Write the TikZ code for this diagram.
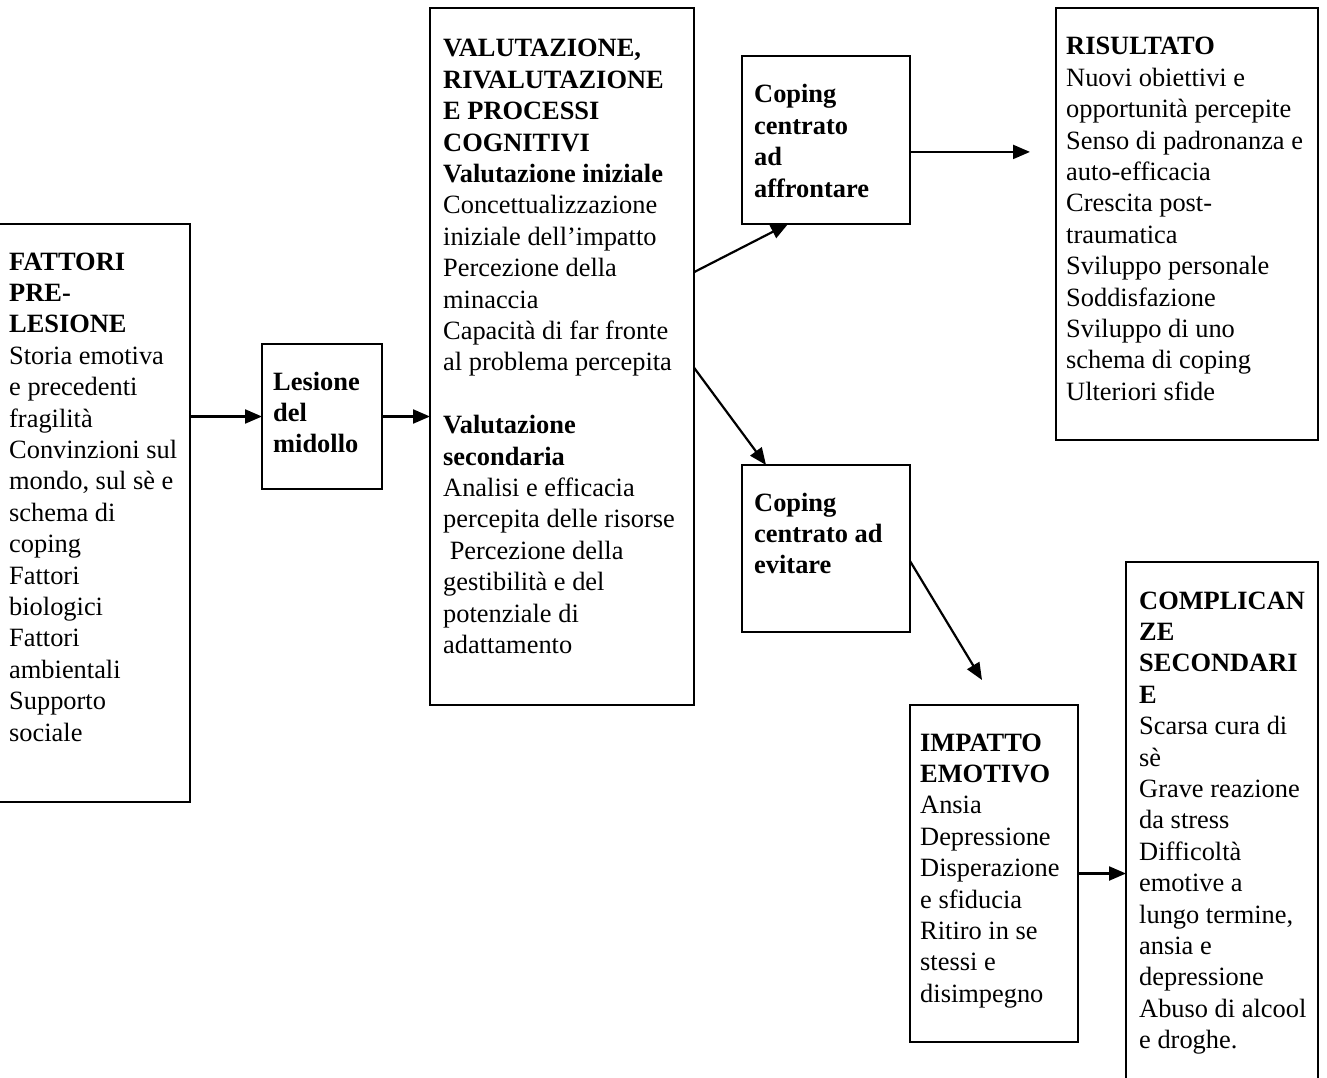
\documentclass[tikz,border=0pt]{standalone}
\usepackage{fontspec}
\setmainfont{Liberation Serif}
\usetikzlibrary{arrows.meta,calc}
\begin{document}
\begin{tikzpicture}[x=1pt,y=-1pt,
  box/.style={draw,line width=2pt,rectangle,inner sep=0pt,outer sep=0pt,anchor=north west},
  txt/.style={anchor=base west,inner sep=0pt,font=\fontsize{26.4}{31.4}\selectfont},
  arr/.style={line width=2.2pt,-{Triangle[length=17pt,width=14pt]}}]
\useasboundingbox (0,0) rectangle (1327,1078);

% boxes
\node[box,minimum width=192pt,minimum height=578pt] (fat) at (-2,224) {};
\node[box,minimum width=120pt,minimum height=145pt] (les) at (262,344) {};
\node[box,minimum width=264pt,minimum height=697pt] (val) at (430,8) {};
\node[box,minimum width=168pt,minimum height=168pt] (ca) at (742,56) {};
\node[box,minimum width=262pt,minimum height=432pt] (ris) at (1056,8) {};
\node[box,minimum width=168pt,minimum height=167pt] (ce) at (742,465) {};
\node[box,minimum width=168pt,minimum height=337pt] (imp) at (910,705) {};
\node[box,minimum width=192pt,minimum height=540pt] (com) at (1126,562) {};

% texts
\node[txt] (tfat) at (9,270) {\parbox[t]{200pt}{\raggedright
  \textbf{FATTORI\\PRE-\\LESIONE}\\Storia emotiva\\e precedenti\\fragilità\\Convinzioni sul\\mondo, sul sè e\\schema di\\coping\\Fattori\\biologici\\Fattori\\ambientali\\Supporto\\sociale}};
\node[txt] (tles) at (273,390) {\parbox[t]{120pt}{\raggedright
  \textbf{Lesione\\del\\midollo}}};
\node[txt] (tval) at (443,57) {\parbox[t]{260pt}{\raggedright
  \textbf{VALUTAZIONE,\\RIVALUTAZIONE\\E PROCESSI\\COGNITIVI\\Valutazione iniziale}\\Concettualizzazione\\iniziale dell’impatto\\Percezione della\\minaccia\\Capacità di far fronte\\al problema percepita\\[31.4pt]
  \textbf{Valutazione\\secondaria}\\Analisi e efficacia\\percepita delle risorse\\\ Percezione della\\gestibilità e del\\potenziale di\\adattamento}};
\node[txt] (tca) at (754,103) {\parbox[t]{160pt}{\raggedright
  \textbf{Coping\\centrato\\ad\\affrontare}}};
\node[txt] (tris) at (1066,55) {\parbox[t]{260pt}{\raggedright
  \textbf{RISULTATO}\\Nuovi obiettivi e\\opportunità percepite\\Senso di padronanza e\\auto-efficacia\\Crescita post-\\traumatica\\Sviluppo personale\\Soddisfazione\\Sviluppo di uno\\schema di coping\\Ulteriori sfide}};
\node[txt] (tce) at (754,511) {\parbox[t]{160pt}{\raggedright
  \textbf{Coping\\centrato ad\\evitare}}};
\node[txt] (timp) at (920,751) {\parbox[t]{160pt}{\raggedright
  \textbf{IMPATTO\\EMOTIVO}\\Ansia\\Depressione\\Disperazione\\e sfiducia\\Ritiro in se\\stessi e\\disimpegno}};
\node[txt] (tcom) at (1139,609) {\parbox[t]{190pt}{\raggedright
  \textbf{COMPLICAN\\ZE\\SECONDARI\\E}\\Scarsa cura di\\sè\\Grave reazione\\da stress\\Difficoltà\\emotive a\\lungo termine,\\ansia e\\depressione\\Abuso di alcool\\e droghe.}};

% free arrow ends
\coordinate (risin) at ($(ris.west)+(-26,0)$);
\coordinate (impin) at ($(imp.north west)+(72,-25)$);

% connectors
\draw[arr] (fat.east |- les.west) -- (les.west);
\draw[arr] (les.east) -- (les.east -| val.west);
\draw[arr] ($(val.north east)!0.379!(val.south east)$) -- ($(ca.south west)!0.274!(ca.south east)$);
\draw[arr] ($(val.north east)!0.516!(val.south east)$) -- ($(ce.north west)!0.143!(ce.north east)$);
\coordinate (caout) at ($(ca.north east)!0.571!(ca.south east)$);
\draw[arr] (caout) -- (caout -| risin);
\draw[arr] ($(ce.north east)!0.575!(ce.south east)$) -- (impin);
\draw[arr] (imp.east) -- (imp.east -| com.west);
\end{tikzpicture}
\end{document}
